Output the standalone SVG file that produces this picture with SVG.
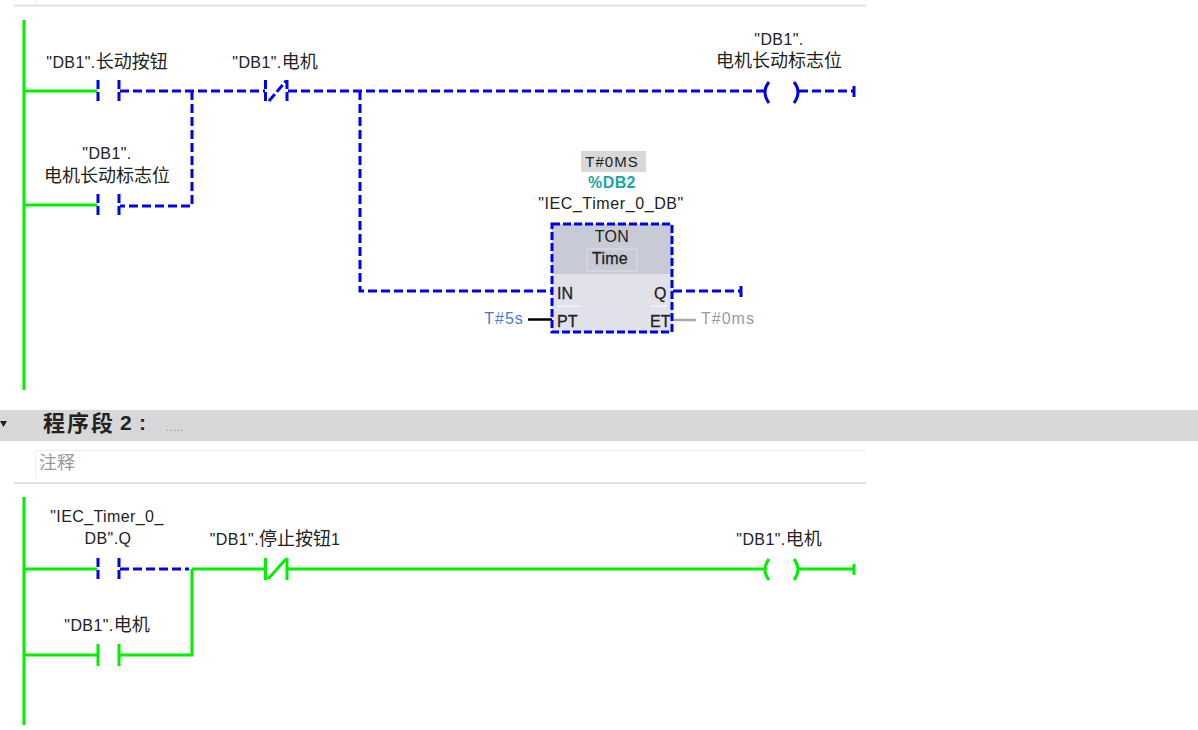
<svg xmlns="http://www.w3.org/2000/svg" width="1198" height="730" viewBox="0 0 1198 730">
<style>
text{font-family:"Noto Sans CJK SC","Liberation Sans",sans-serif;font-size:18px;fill:#222;text-anchor:middle}
.lat{font-family:"Liberation Sans","Noto Sans CJK SC",sans-serif;font-size:16px;letter-spacing:.4px}
.g{fill:none;stroke:#00f000;stroke-width:3}
.b{fill:none;stroke:#0000f0;stroke-width:3;stroke-dasharray:9 4}
.bs{fill:none;stroke:#0000f0;stroke-width:3}
.pin{font-family:"Liberation Sans",sans-serif;font-size:16px;text-anchor:start;stroke:#222;stroke-width:.3px}
</style>
<rect width="1198" height="730" fill="#fff"/>
<g id="frame">
<path d="M14 5.500H866" stroke="#dfdfee" stroke-width="2" fill="none"/>
<path d="M35.500 0V5" stroke="#eeeeee" fill="none"/>
<rect x="0" y="410" width="1198" height="31" fill="#d8d8d8"/>
<path d="M0 421h7l-3.500 6z" fill="#222"/>
<text x="43" y="431" style="font-size:22px;font-weight:700;text-anchor:start;letter-spacing:2px">程序段</text>
<text x="120" y="430" class="lat" style="font-size:21px;font-weight:700;text-anchor:start">2</text>
<text x="139" y="430" class="lat" style="font-size:21px;font-weight:700;text-anchor:start">:</text>
<text x="175" y="431" style="font-size:11px;fill:#888;letter-spacing:.6px" class="lat">.....</text>
<path d="M36 450.500H866" stroke="#f0f0f0" stroke-width="1.500" fill="none"/>
<path d="M35.500 450V479" stroke="#f0f0f0" fill="none"/>
<text x="57" y="469" style="font-size:18px;fill:#9a9a9a">注释</text>
<path d="M14 483H866" stroke="#dfdfee" stroke-width="2" fill="none"/>
</g>
<g id="connectors">
<path class="g" d="M24 20V390M24 91H97M24 205H97"/>
<path class="b" d="M120 91H265M288 91H764M192 91V206H120M360 91V291H551"/>
<path class="b" d="M799 91H855"/>
<path class="b" d="M673 291H741"/>
<path d="M528 319.500H552" stroke="#000" stroke-width="2.500" fill="none"/>
<path d="M673 320H696" stroke="#aaa" stroke-width="2.500" fill="none"/>
<path class="g" d="M24 497V725M24 569H97M24 655H97M192 569H265M288 569H764M799 569H855M120 655H192V569"/>
<path class="b" d="M120 569H189"/>
</g>
<g id="n1_contact_start">
<text x="107" y="68"><tspan class="lat">"DB1".</tspan>长动按钮</text>
<path class="b" style="stroke-dasharray:9 3" d="M98 80V102M119 80V102"/>
</g>
<g id="n1_contact_flag">
<text x="107" y="159" class="lat">"DB1".</text>
<text x="107" y="182">电机长动标志位</text>
<path class="b" style="stroke-dasharray:9 3" d="M98 194V216M119 194V216"/>
</g>
<g id="n1_contact_motor">
<text x="275" y="68"><tspan class="lat">"DB1".</tspan>电机</text>
<path class="b" style="stroke-dasharray:9 3" d="M265.500 80V102M287 80V102M269 101L286 81"/>
</g>
<g id="n1_coil">
<text x="779" y="45" class="lat">"DB1".</text>
<text x="779" y="67">电机长动标志位</text>
<path class="bs" d="M769 82Q761 92 769 103M794 82Q802 92 794 103"/>
<path class="bs" d="M854 86V97"/>
</g>
<g id="timer">
<rect x="581" y="151" width="65" height="21" fill="#d8d8d8"/>
<text x="612" y="167" class="lat" style="font-size:15px;letter-spacing:1px">T#0MS</text>
<text x="612" y="188" class="lat" style="font-weight:700;fill:#1aa5a5">%DB2</text>
<text x="611" y="209" class="lat" style="letter-spacing:.6px">"IEC_Timer_0_DB"</text>
<rect x="552" y="224" width="120" height="108" fill="#e0e1e9"/>
<rect x="552" y="224" width="120" height="50" fill="#c8cad6"/>
<rect x="587" y="249" width="50" height="22" fill="none" stroke="#d8d9e2" stroke-width="1.500"/>
<text x="612" y="242" class="lat" style="letter-spacing:.3px">TON</text>
<text x="610" y="264" class="lat" style="letter-spacing:.3px;stroke:#222;stroke-width:.3px">Time</text>
<path d="M557 306H580M650 306H668" stroke="#f2f2f6" stroke-width="1.500" fill="none"/>
<rect x="552" y="224" width="120" height="108" fill="none" stroke="#0000f0" stroke-width="3" stroke-dasharray="8 3"/>
<text class="pin" x="557" y="299">IN</text>
<text class="pin" x="654" y="299">Q</text>
<text class="pin" x="557" y="327">PT</text>
<text class="pin" x="650" y="327">ET</text>
<path class="bs" d="M741 286V297"/>
<text x="504" y="324" class="lat" style="letter-spacing:1px;fill:#4a78d8">T#5s</text>
<text x="728" y="324" class="lat" style="letter-spacing:1px;fill:#9a9aa4">T#0ms</text>
</g>
<g id="n2_contact_timer">
<text x="107" y="522" class="lat">"IEC_Timer_0_</text>
<text x="108" y="544" class="lat">DB".Q</text>
<path class="b" style="stroke-dasharray:9 3" d="M98 558V580M119 558V580"/>
</g>
<g id="n2_contact_motor">
<text x="107" y="631"><tspan class="lat">"DB1".</tspan>电机</text>
<path class="g" d="M98 644V666M119 644V666"/>
</g>
<g id="n2_contact_stop">
<text x="275" y="545"><tspan class="lat">"DB1".</tspan>停止按钮<tspan class="lat">1</tspan></text>
<path class="g" d="M265.500 558V580M287 558V580M268 579L286 559"/>
</g>
<g id="n2_coil">
<text x="779" y="545"><tspan class="lat">"DB1".</tspan>电机</text>
<path class="g" d="M769 559Q761 570 769 580M794 559Q802 570 794 580M854 564V575"/>
</g>
</svg>
